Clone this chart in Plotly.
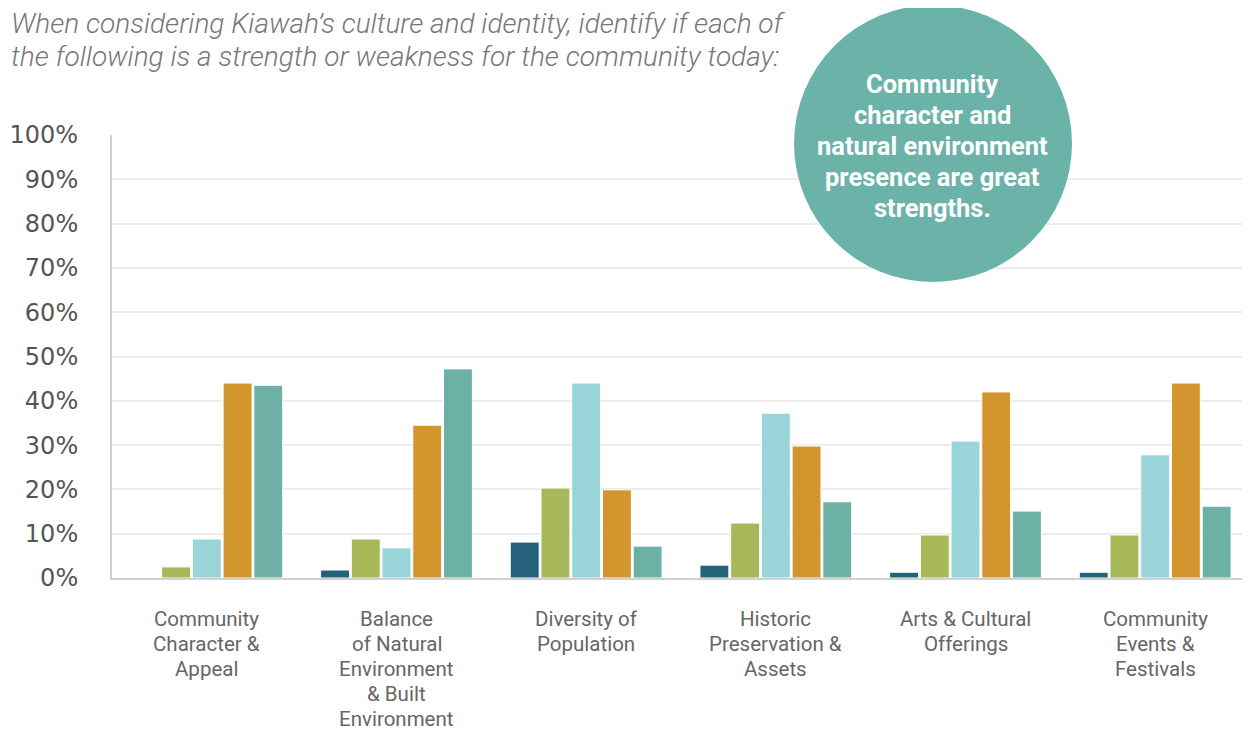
import plotly.graph_objects as go

categories = [
    "Community<br>Character &<br>Appeal",
    "Balance<br>of Natural<br>Environment<br>& Built<br>Environment",
    "Diversity of<br>Population",
    "Historic<br>Preservation &<br>Assets",
    "Arts & Cultural<br>Offerings",
    "Community<br>Events &<br>Festivals",
]
series_names = ["Major Weakness", "Weakness", "Neutral", "Strength", "Major Strength"]
major_weakness = [0, 1.8, 8.1, 2.9, 1.3, 1.3]
weakness = [2.5, 8.8, 20.3, 12.4, 9.7, 9.7]
neutral = [8.8, 6.8, 44.0, 37.2, 30.9, 27.8]
strength = [44.0, 34.5, 19.9, 29.8, 42.0, 44.0]
major_strength = [43.5, 47.2, 7.2, 17.2, 15.1, 16.2]
series_values = [major_weakness, weakness, neutral, strength, major_strength]
colors = ["#24617a", "#a6b858", "#98d4d8", "#d3962e", "#6db0a6"]
y_ticks = [0, 10, 20, 30, 40, 50, 60, 70, 80, 90, 100]
y_tick_labels = [f"{v}%" for v in y_ticks]
title_lines = [
    "When considering Kiawah’s culture and identity, identify if each of",
    "the following is a strength or weakness for the community today:",
]
callout_lines = ["Community", "character and", "natural environment", "presence are great", "strengths."]

# the page body adds an 8px offset; work in screen pixels and subtract it
OFF = 8
W, H = 1250 - OFF, 730 - OFF
ML, MT = 112 - OFF, 135 - OFF
MR = 0
MB = H - (578 - OFF)
pw, ph = W - ML - MR, H - MT - MB

def px_x(x):
    return (x - OFF - ML) / pw

def px_y(y):
    return (H - MB - (y - OFF)) / ph

fig = go.Figure()
for name, vals, col in zip(series_names, series_values, colors):
    fig.add_trace(go.Bar(
        x=categories, y=vals, name=name,
        marker=dict(color=col, line=dict(color="white", width=1)),
        showlegend=False,
    ))

fig.update_layout(
    width=W, height=H,
    margin=dict(l=ML, r=MR, t=MT, b=MB, autoexpand=False),
    paper_bgcolor="white", plot_bgcolor="white",
    barmode="group", bargap=0.19, bargroupgap=0.06,
    font=dict(family="Roboto", color="#666"),
)
fig.update_yaxes(
    range=[0, 100], tickvals=y_ticks, ticktext=y_tick_labels,
    showgrid=True, gridcolor="#ececec", gridwidth=2,
    showline=True, linecolor="#d0d0d0", linewidth=2,
    zeroline=False, ticks="", ticklabelstandoff=27,
    tickfont=dict(family="DejaVu Sans", size=24, color="#555"),
)
fig.update_xaxes(
    showline=True, linecolor="#d0d0d0", linewidth=2,
    ticks="", showticklabels=False,
)

# category labels, one line at a time for tight line spacing
for cat in categories:
    for i, line in enumerate(cat.split("<br>")):
        fig.add_annotation(
            xref="x", yref="paper", x=cat, y=px_y(619 + 25 * i),
            xanchor="center", yanchor="middle", showarrow=False,
            text=line, font=dict(family="Roboto", size=20.5, color="#666"),
        )

# title text
for i, line in enumerate(title_lines):
    fig.add_annotation(
        xref="paper", yref="paper", x=px_x(OFF + 1), y=px_y(23 + 34 * i),
        xanchor="left", yanchor="middle", align="left", showarrow=False,
        text=line,
        font=dict(family="Roboto", size=28, color="#777", style="italic", weight=300),
    )

# callout bubble
fig.add_shape(
    type="circle", xref="paper", yref="paper",
    x0=px_x(794), x1=px_x(1072), y0=px_y(282), y1=px_y(5),
    fillcolor="#6bb3a8", line=dict(width=0), layer="above",
)
for i, line in enumerate(callout_lines):
    fig.add_annotation(
        xref="paper", yref="paper", x=px_x(932), y=px_y(84 + 31 * i),
        xanchor="center", yanchor="middle", showarrow=False,
        text=line,
        font=dict(family="Roboto", size=25.5, color="white", weight=700),
    )

fig.write_html("out.html")
